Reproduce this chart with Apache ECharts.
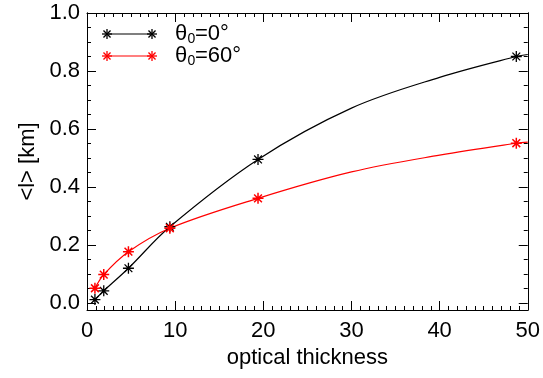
<!DOCTYPE html>
<html>
<head>
<meta charset="utf-8">
<script src="https://cdn.jsdelivr.net/npm/echarts@6/dist/echarts.min.js"></script>
<style>
  html, body { margin: 0; padding: 0; background: #fff; }
  #chart { width: 543px; height: 378px; }
</style>
</head>
<body>
<div id="chart"></div>
<script>
const opticalThickness = [0.9, 1.9, 4.7, 9.4, 19.4, 48.7]
const lTheta0 = [0.012, 0.042, 0.12, 0.263, 0.495, 0.85]
const lTheta60 = [0.051, 0.098, 0.177, 0.258, 0.361, 0.551]

// the drawn curves (they pass through the asterisks)
const curveX = [0.9, 1.9, 4.7, 9.4, 19.4, 30, 40, 48.7, 50]
const curveTheta0 = [0.012, 0.042, 0.12, 0.263, 0.495, 0.672, 0.778, 0.85, 0.857]
const curveTheta60 = [0.051, 0.098, 0.177, 0.258, 0.361, 0.452, 0.51, 0.551, 0.555]

const yTicks = [0, 0.2, 0.4, 0.6, 0.8, 1.0]
const yMinorTicks = []
for (let i = 0; i <= 20; i++) {
  if (i % 4 !== 0) yMinorTicks.push(+(i * 0.05).toFixed(2))
}

const FONT = '"Liberation Sans", Arial, Helvetica, sans-serif'
const asterisk = 'path://M0,-10L0,10M-10,0L10,0M-7.07,-7.07L7.07,7.07M-7.07,7.07L7.07,-7.07'

const pairs = (xs, ys) => xs.map((x, i) => [x, ys[i]])

const chart = echarts.init(document.getElementById('chart'))

const Y_MIN = -0.024
const Y_MAX = 1.0

function frameY(position, opts) {
  return Object.assign({
    type: 'value',
    position: position,
    min: Y_MIN,
    max: Y_MAX,
    axisLine: { show: true, onZero: false, lineStyle: { color: '#000', width: 1 } },
    splitLine: { show: false },
    axisLabel: { show: false },
    axisTick: { show: false }
  }, opts)
}

function frameX(position, opts) {
  return Object.assign({
    type: 'value',
    position: position,
    min: 0,
    max: 50,
    interval: 10,
    axisLine: { show: true, onZero: false, lineStyle: { color: '#000', width: 1 } },
    splitLine: { show: false },
    axisLabel: { show: false },
    axisTick: { show: true, inside: true, length: 9, lineStyle: { color: '#000' } },
    minorTick: { show: true, splitNumber: 10, length: 4, lineStyle: { color: '#000' } }
  }, opts)
}

// legend drawn by hand: line with an asterisk at each end
function asteriskLines(cx, cy, r, color) {
  const d = r * 0.7071
  const segs = [[0, -r, 0, r], [-r, 0, r, 0], [-d, -d, d, d], [-d, d, d, -d]]
  return segs.map(s => ({
    type: 'line',
    shape: { x1: cx + s[0], y1: cy + s[1], x2: cx + s[2], y2: cy + s[3] },
    style: { stroke: color, lineWidth: 1.3 }
  }))
}

function legendText(x, y, text, size) {
  return {
    type: 'text',
    x: x,
    y: y,
    style: {
      text: text, fill: '#000', fontSize: size, fontFamily: FONT,
      align: 'left', verticalAlign: 'middle'
    }
  }
}

const legendGraphic = []
;[
  { y: 34, color: '#000', label: '=0°' },
  { y: 56, color: '#ff0000', label: '=60°' }
].forEach(item => {
  legendGraphic.push({
    type: 'line',
    shape: { x1: 107, y1: item.y, x2: 152, y2: item.y },
    style: { stroke: item.color, lineWidth: 1.2 }
  })
  legendGraphic.push(...asteriskLines(107, item.y, 5, item.color))
  legendGraphic.push(...asteriskLines(152, item.y, 5, item.color))
  legendGraphic.push(legendText(175, item.y, 'θ', 22))
  legendGraphic.push(legendText(187.5, item.y + 5, '0', 14))
  legendGraphic.push(legendText(195, item.y, item.label, 22))
})

function curveSeries(name, color, data) {
  return {
    name: name,
    type: 'line',
    smooth: 0.35,
    symbol: 'none',
    lineStyle: { color: color, width: 1.2 },
    data: data,
    z: 2
  }
}

function markerSeries(name, color, width, data) {
  return {
    name: name,
    type: 'scatter',
    symbol: asterisk,
    symbolSize: 11,
    itemStyle: { color: color, borderColor: color, borderWidth: width, opacity: 1 },
    data: data,
    z: 3
  }
}

const option = {
  animation: false,
  grid: { left: 87, right: 15, top: 13, bottom: 68, containLabel: false },
  xAxis: [
    frameX('bottom', {
      name: 'optical thickness',
      nameLocation: 'middle',
      nameGap: 34,
      nameTextStyle: { fontSize: 22, fontFamily: FONT, color: '#000' },
      axisLabel: { show: true, fontSize: 22, fontFamily: FONT, color: '#000', margin: 10 }
    }),
    frameX('top', {})
  ],
  yAxis: [
    frameY('left', {
      name: '<l> [km]',
      nameLocation: 'middle',
      nameRotate: 90,
      nameGap: 47,
      nameTextStyle: { fontSize: 22, fontFamily: FONT, color: '#000' },
      axisLabel: {
        show: true, fontSize: 22, fontFamily: FONT, color: '#000', margin: 7,
        customValues: yTicks,
        formatter: v => v.toFixed(1)
      },
      axisTick: { show: true, inside: true, length: 9, customValues: yTicks, lineStyle: { color: '#000' } }
    }),
    frameY('left', {
      axisTick: { show: true, inside: true, length: 4, customValues: yMinorTicks, lineStyle: { color: '#000' } }
    }),
    frameY('right', {
      axisTick: { show: true, inside: true, length: 9, customValues: yTicks, lineStyle: { color: '#000' } }
    }),
    frameY('right', {
      axisTick: { show: true, inside: true, length: 4, customValues: yMinorTicks, lineStyle: { color: '#000' } }
    })
  ],
  series: [
    curveSeries('θ0=0°', '#000', pairs(curveX, curveTheta0)),
    curveSeries('θ0=60°', '#ff0000', pairs(curveX, curveTheta60)),
    markerSeries('θ0=0°', '#000', 1.3, pairs(opticalThickness, lTheta0)),
    markerSeries('θ0=60°', '#ff0000', 1.5, pairs(opticalThickness, lTheta60))
  ],
  graphic: legendGraphic
}

chart.setOption(option)
</script>
</body>
</html>
